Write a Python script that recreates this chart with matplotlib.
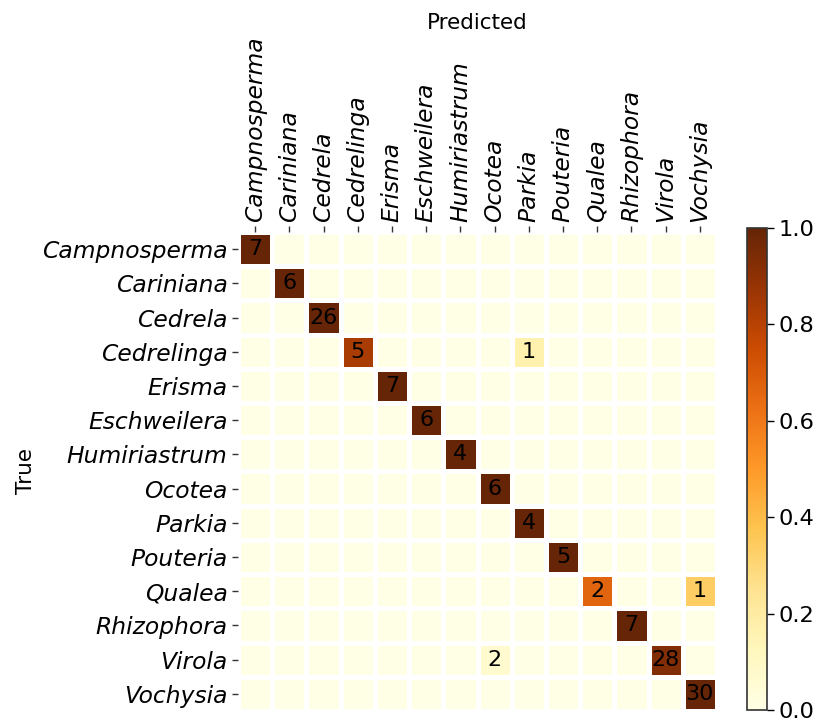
import matplotlib
matplotlib.use("Agg")
import matplotlib.pyplot as plt
import numpy as np

# species (same order on both axes)
CLASSES = ["Campnosperma", "Cariniana", "Cedrela", "Cedrelinga", "Erisma",
           "Eschweilera", "Humiriastrum", "Ocotea", "Parkia", "Pouteria",
           "Qualea", "Rhizophora", "Virola", "Vochysia"]

# correct predictions per class (diagonal)
DIAG = [7, 6, 26, 5, 7, 6, 4, 6, 4, 5, 2, 7, 28, 30]

# off-diagonal confusions: (true, predicted, count)
CONFUSIONS = [("Cedrelinga", "Parkia", 1),
              ("Qualea", "Vochysia", 1),
              ("Virola", "Ocotea", 2)]

FS = 16.8        # tick labels
FS_ANN = 16      # cell counts

n = len(CLASSES)
cm = np.diag(DIAG).astype(float)
for t, p, c in CONFUSIONS:
    cm[CLASSES.index(t), CLASSES.index(p)] = c
norm = cm / cm.sum(axis=1, keepdims=True)   # row-normalised colours

fig = plt.figure(figsize=(8.19, 7.23), dpi=100)
ax = fig.add_axes([238 / 819, 1 - 711 / 723, 479 / 819, 479 / 723])
cax = fig.add_axes([747 / 819, 1 - 710 / 723, 20 / 819, 482 / 723])

mesh = ax.pcolormesh(norm, cmap="YlOrBr", vmin=0, vmax=1,
                     edgecolors="white", linewidth=2.2)
ax.set_xlim(0, n); ax.set_ylim(n, 0)
for s in ax.spines.values():
    s.set_visible(False)

for i in range(n):
    for j in range(n):
        if cm[i, j] > 0:
            ax.text(j + 0.5, i + 0.5, f"{int(cm[i, j])}", ha="center",
                    va="center", fontsize=FS_ANN, color="black")

ax.xaxis.tick_top()
ax.xaxis.set_label_position("top")
ax.set_xticks(np.arange(n) + 0.5)
ax.set_yticks(np.arange(n) + 0.5)
ax.set_xticklabels(CLASSES, rotation=90, fontsize=FS, style="italic")
ax.set_yticklabels(CLASSES, fontsize=FS, style="italic")
ax.tick_params(length=4, width=1, color="#333333")
ax.set_xlabel("Predicted", fontsize=15.5, labelpad=5)
ax.set_ylabel("True", fontsize=15.5, labelpad=4)

cb = fig.colorbar(mesh, cax=cax, ticks=[0, 0.2, 0.4, 0.6, 0.8, 1.0])
cb.ax.tick_params(labelsize=16.2, length=5, width=1)
cb.outline.set_linewidth(1.2)
cb.outline.set_edgecolor("#333333")

fig.savefig("out.png", dpi=100)
